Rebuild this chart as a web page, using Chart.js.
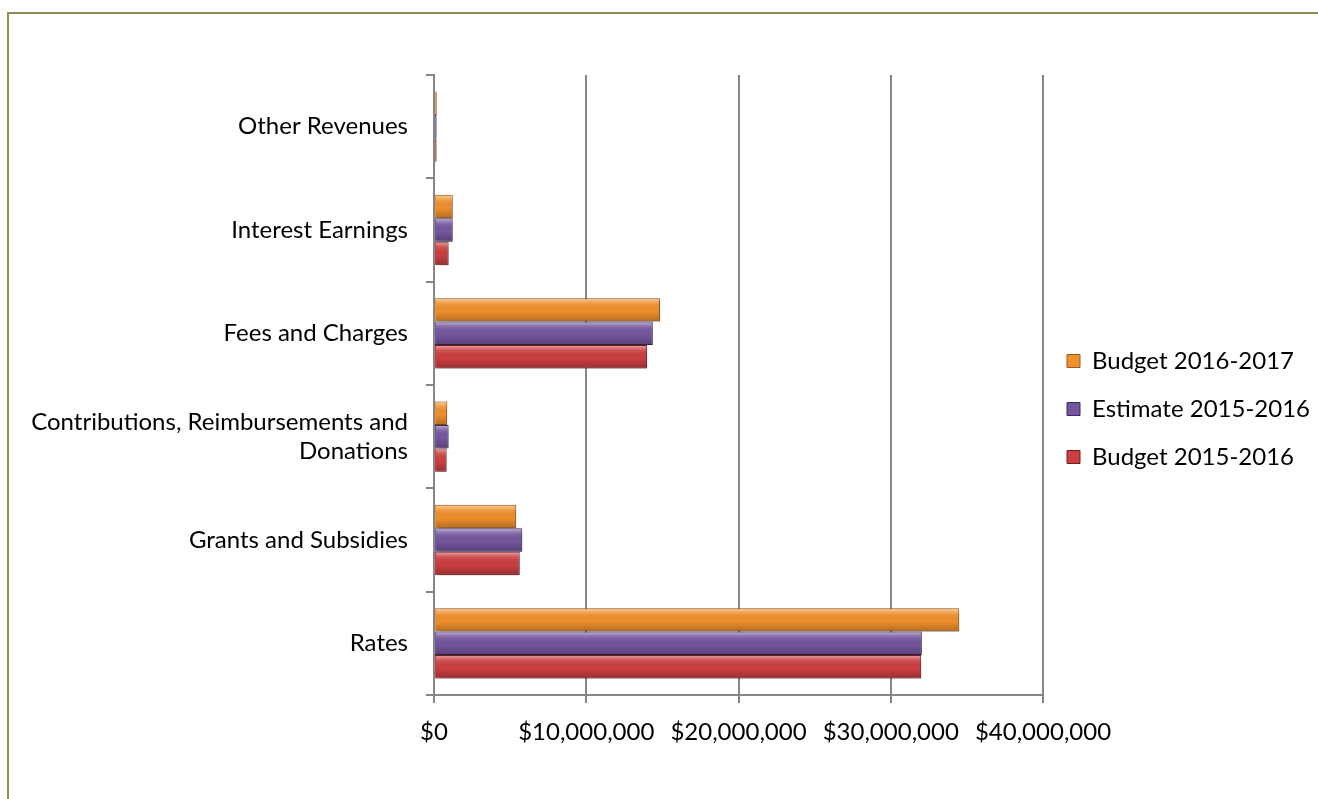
<!DOCTYPE html>
<html>
<head>
<meta charset="utf-8">
<script src="https://cdn.jsdelivr.net/npm/chart.js@4.4.1/dist/chart.umd.min.js"></script>
<style>
  html, body { margin: 0; padding: 0; background: #fff; overflow: hidden; }
  #frame {
    position: absolute; left: 7px; top: 12px; width: 1330px; height: 820px;
    border: 2px solid #938953; box-sizing: border-box;
  }
  #wrap { position: absolute; left: 0; top: 0; width: 1318px; height: 799px; }
</style>
</head>
<body>
<div id="frame"></div>
<div id="wrap"><canvas id="revChart" width="1318" height="799"></canvas></div>
<script>
(function () {

const categories = [
  "Other Revenues",
  "Interest Earnings",
  "Fees and Charges",
  ["Contributions, Reimbursements and", "Donations"],
  "Grants and Subsidies",
  "Rates"
];

// values in dollars
const budget1617 = [180000, 1230000, 14850000, 870000, 5400000, 34500000];
const estimate1516 = [170000, 1230000, 14370000, 960000, 5800000, 32040000];
const budget1516 = [170000, 960000, 14000000, 830000, 5630000, 32000000];

const xTicks = [0, 10000000, 20000000, 30000000, 40000000];

const fontFamily = "Lato, 'Open Sans', sans-serif";

// drop shadow under the bars + bevel-ish shading, from the laid out bar elements
const bevel = {
  id: "bevel",
  beforeDatasetsDraw(chart) {
    const c = chart.ctx;
    c.save();
    c.shadowColor = "rgba(0,0,0,0.35)";
    c.shadowBlur = 6;
    c.shadowOffsetX = 2;
    c.shadowOffsetY = 3;
  },
  afterDatasetsDraw(chart) {
    const c = chart.ctx;
    c.restore();
    chart.data.datasets.forEach((ds, i) => {
      const meta = chart.getDatasetMeta(i);
      if (meta.hidden) return;
      meta.data.forEach(el => {
        const top = el.y - el.height / 2;
        const left = el.base;
        const w = el.x - el.base;
        const h = el.height;
        if (w <= 2) return;
        const g = c.createLinearGradient(0, top, 0, top + h);
        g.addColorStop(0, "rgba(255,255,255,0.55)");
        g.addColorStop(0.2, "rgba(255,255,255,0.15)");
        g.addColorStop(0.55, "rgba(0,0,0,0.0)");
        g.addColorStop(1, "rgba(0,0,0,0.25)");
        c.save();
        c.fillStyle = g;
        c.fillRect(left + 1, top + 1, w - 2, h - 2);
        c.restore();
      });
    });
  }
};

const ctx = document.getElementById("revChart");

new Chart(ctx, {
  type: "bar",
  data: {
    labels: categories,
    datasets: [
      {
        label: "Budget 2016-2017",
        data: budget1617,
        backgroundColor: "#F0902C",
        borderColor: "#9C5A1C",
        borderWidth: 1
      },
      {
        label: "Estimate 2015-2016",
        data: estimate1516,
        backgroundColor: "#74569E",
        borderColor: "#3B2C5C",
        borderWidth: 1
      },
      {
        label: "Budget 2015-2016",
        data: budget1516,
        backgroundColor: "#CC3E40",
        borderColor: "#6E2022",
        borderWidth: 1
      }
    ]
  },
  options: {
    indexAxis: "y",
    responsive: false,
    animation: false,
    categoryPercentage: 0.68,
    barPercentage: 1.0,
    layout: { padding: { top: 75, left: 10, right: 8, bottom: 10 } },
    scales: {
      x: {
        type: "linear",
        min: 0,
        max: 40000000,
        afterBuildTicks: s => { s.ticks = xTicks.map(v => ({ value: v })); },
        afterFit: s => { s.height = 799 - 695 - 10; },
        ticks: {
          color: "#000",
          font: { family: fontFamily, size: 24 },
          padding: 15,
          maxRotation: 0,
          callback: v => "$" + Number(v).toLocaleString("en-US")
        },
        grid: { color: "#868686", lineWidth: 2, tickLength: 8 },
        border: { color: "#868686", width: 2 }
      },
      y: {
        afterFit: s => { s.width = 434 - 10; },
        ticks: {
          color: "#000",
          font: { family: fontFamily, size: 24 },
          padding: 18
        },
        grid: { drawOnChartArea: false, color: "#868686", lineWidth: 2, tickLength: 8, offset: true },
        border: { color: "#868686", width: 2 }
      }
    },
    plugins: {
      legend: {
        position: "right",
        fullSize: false,
        maxWidth: 267,
        title: { display: true, text: " ", font: { size: 20, lineHeight: 1.2 }, padding: 12 },
        labels: {
          color: "#000",
          font: { family: fontFamily, size: 24 },
          boxWidth: 13,
          boxHeight: 13,
          padding: 24
        }
      },
      tooltip: { enabled: false }
    }
  },
  plugins: [bevel]
});

})();
</script>
</body>
</html>
